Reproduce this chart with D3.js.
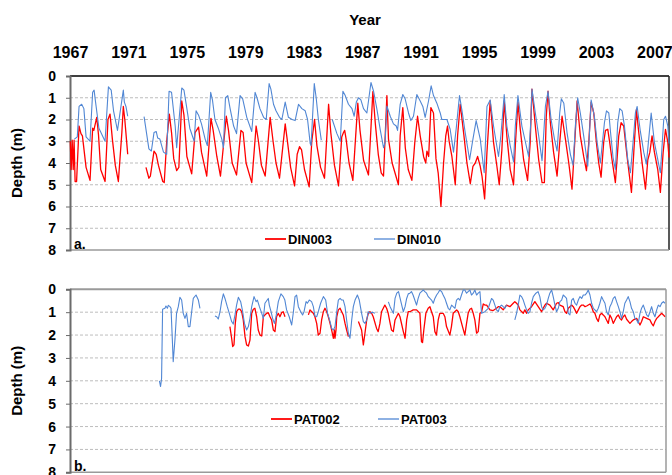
<!DOCTYPE html>
<html>
<head>
<meta charset="utf-8">
<script src="https://cdn.jsdelivr.net/npm/d3@7"></script>
<style>
  body { margin: 0; background: #fff; }
  svg { font-family: Arial, "Liberation Sans", sans-serif; }
  .grid line { stroke: #bdbdbd; stroke-dasharray: 3,2; }
</style>
</head>
<body>
<div id="chart"></div>
<script>
'use strict';

// year ticks along the top and depth ticks for both panels
var yearTicks = [1967, 1971, 1975, 1979, 1983, 1987, 1991, 1995, 1999, 2003, 2007];
var depthTicks = [0, 1, 2, 3, 4, 5, 6, 7, 8];

// [decimal year, depth m]; null = gap in record
var din003 = [
  [1967.02,3.0],[1967.08,4.3],[1967.15,2.95],[1967.22,4.3],[1967.28,2.95],[1967.35,4.85],[1967.45,4.85],[1967.62,2.3],[1967.75,2.65],[1967.85,2.75],
  [1968.1,4.2],[1968.37,4.8],[1968.55,2.4],[1968.63,2.5],[1968.83,1.9],[1968.95,2.7],[1969.1,4.3],[1969.4,4.85],[1969.6,2.0],[1969.74,1.75],
  [1969.9,2.9],[1970.1,4.1],[1970.31,4.85],[1970.55,2.6],[1970.65,1.4],[1970.75,2.0],[1970.95,3.6],null,
  [1972.2,4.2],[1972.4,4.7],[1972.5,4.6],[1972.75,3.45],[1972.9,3.6],[1973.05,4.1],[1973.35,4.85],[1973.45,4.9],[1973.62,3.0],[1973.8,1.75],
  [1973.95,2.6],[1974.1,3.8],[1974.3,4.35],[1974.45,4.2],[1974.65,1.15],[1974.8,1.8],[1975.0,3.7],[1975.33,4.5],[1975.56,2.6],[1975.8,2.35],
  [1976.0,3.5],[1976.36,4.6],[1976.65,1.95],[1976.8,2.5],[1977.05,3.7],[1977.3,4.6],[1977.7,1.85],[1977.85,2.5],[1978.1,4.0],[1978.4,4.55],
  [1978.7,2.5],[1978.85,2.6],[1979.05,4.0],[1979.44,4.9],[1979.74,2.3],[1979.9,3.0],[1980.1,4.1],[1980.36,4.6],[1980.7,1.9],[1980.9,3.0],
  [1981.1,4.0],[1981.34,4.7],[1981.73,2.2],[1981.9,3.1],[1982.1,4.2],[1982.37,5.05],[1982.55,3.6],[1982.71,3.25],[1982.85,3.4],[1983.05,4.3],
  [1983.37,5.1],[1983.55,3.0],[1983.74,2.0],[1983.9,3.2],[1984.15,4.2],[1984.42,4.7],[1984.7,1.3],[1984.85,2.6],[1985.1,4.1],[1985.38,5.05],
  [1985.6,2.8],[1985.72,2.6],[1985.8,2.5],[1985.9,2.9],[1986.1,4.0],[1986.36,4.8],[1986.55,2.8],[1986.7,1.25],[1986.85,2.5],[1987.1,3.9],
  [1987.43,4.55],[1987.73,0.72],[1987.9,2.2],[1988.1,3.6],[1988.3,4.45],[1988.46,4.6],[1988.69,0.9],[1988.8,2.9],[1989.05,4.0],[1989.48,5.0],
  [1989.6,2.75],[1989.78,1.45],[1989.95,3.3],[1990.15,4.3],[1990.4,4.8],[1990.6,3.05],[1990.79,1.85],[1990.97,2.75],[1991.2,3.7],[1991.35,4.0],
  [1991.43,3.45],[1991.55,3.7],[1991.7,1.45],[1991.88,1.7],[1992.05,3.8],[1992.2,4.45],[1992.39,6.0],[1992.57,4.0],[1992.72,2.75],[1992.84,2.3],
  [1992.95,3.0],[1993.14,3.7],[1993.37,5.0],[1993.53,2.75],[1993.71,1.3],[1993.94,2.6],[1994.17,4.0],[1994.4,4.95],[1994.58,4.15],[1994.74,4.0],
  [1994.9,3.7],[1995.08,4.15],[1995.2,4.6],[1995.38,5.65],[1995.54,3.5],[1995.76,1.15],[1995.99,3.05],[1996.22,4.15],[1996.38,5.0],[1996.56,3.4],
  [1996.72,1.15],[1996.9,2.75],[1997.13,4.3],[1997.36,5.0],[1997.48,3.2],[1997.66,1.2],[1997.82,2.45],[1998.05,3.85],[1998.32,4.8],[1998.5,3.05],
  [1998.62,0.6],[1998.85,2.3],[1999.08,3.85],[1999.31,4.9],[1999.47,4.9],[1999.6,1.85],[1999.72,0.7],[1999.88,2.15],[2000.1,3.5],[2000.34,4.6],
  [2000.52,3.05],[2000.68,1.85],[2000.91,2.9],[2001.14,4.0],[2001.36,5.2],[2001.48,3.85],[2001.71,1.15],[2001.93,2.75],[2002.16,3.7],[2002.35,4.35],
  [2002.51,3.05],[2002.67,1.2],[2002.85,1.7],[2003.03,3.05],[2003.19,4.0],[2003.35,4.65],[2003.53,3.05],[2003.65,2.5],[2003.81,2.45],[2003.94,3.05],
  [2004.1,3.85],[2004.33,4.9],[2004.56,2.75],[2004.72,2.15],[2004.9,2.3],[2005.13,3.7],[2005.43,5.35],[2005.59,3.5],[2005.77,1.55],[2005.93,2.6],
  [2006.16,4.0],[2006.39,5.2],[2006.55,3.85],[2006.69,3.5],[2006.84,2.75],[2007.0,3.5],[2007.23,4.3],[2007.41,5.35],[2007.6,3.5],[2007.76,2.45],
  [2007.92,3.05],[2008.0,3.75]
];

var din010 = [
  [1967.3,2.9],[1967.5,2.8],[1967.62,1.4],[1967.8,1.3],[1967.95,1.5],[1968.1,2.8],[1968.37,3.0],[1968.55,0.75],[1968.65,0.65],[1968.75,1.2],
  [1968.98,2.4],[1969.4,3.0],[1969.63,0.5],[1969.82,0.65],[1969.98,1.6],[1970.25,2.5],[1970.65,0.65],[1970.72,1.2],[1970.83,1.4],[1970.95,1.85],null,
  [1972.07,1.87],[1972.4,3.35],[1972.57,3.45],[1972.75,2.6],[1972.9,2.55],[1973.0,2.85],[1973.15,2.9],[1973.4,3.5],[1973.62,3.6],[1973.78,0.7],
  [1973.95,0.75],[1974.2,2.3],[1974.3,3.3],[1974.65,0.55],[1974.8,0.65],[1975.0,1.5],[1975.2,2.4],[1975.5,3.0],[1975.63,1.6],[1975.8,1.8],
  [1976.0,2.2],[1976.25,2.9],[1976.4,3.2],[1976.63,0.75],[1976.75,1.1],[1976.92,2.0],[1977.15,2.4],[1977.39,2.9],[1977.5,3.3],[1977.64,1.0],
  [1977.8,0.9],[1977.96,1.5],[1978.2,2.3],[1978.4,2.65],[1978.64,0.9],[1978.82,1.05],[1979.1,1.9],[1979.44,2.55],[1979.67,0.75],[1979.8,1.0],
  [1980.0,1.5],[1980.25,1.9],[1980.43,2.0],[1980.63,0.35],[1980.75,0.6],[1980.93,1.3],[1981.1,1.6],[1981.34,1.9],[1981.5,2.0],[1981.73,1.2],
  [1981.95,1.9],[1982.2,2.0],[1982.41,2.05],[1982.64,1.3],[1982.87,1.5],[1983.1,1.6],[1983.26,2.0],[1983.44,3.1],[1983.5,3.2],[1983.72,0.35],
  [1983.85,1.0],[1984.0,2.0],[1984.2,2.95],null,
  [1984.95,2.0],[1985.27,2.65],[1985.5,3.0],[1985.68,0.7],[1985.84,0.9],[1986.06,1.3],[1986.3,1.5],[1986.45,1.85],[1986.6,1.2],[1986.75,1.0],
  [1986.91,1.1],[1987.09,1.5],[1987.32,1.7],[1987.6,0.3],[1987.78,0.7],[1988.0,1.5],[1988.23,2.45],[1988.46,3.3],[1988.57,3.05],[1988.69,1.38],
  [1988.92,1.85],[1989.14,2.2],[1989.33,2.3],[1989.42,2.5],[1989.6,1.3],[1989.78,0.85],[1989.94,1.05],[1990.17,1.7],[1990.33,2.05],[1990.51,1.85],
  [1990.74,0.85],[1990.97,1.15],[1991.15,1.4],[1991.31,1.9],[1991.54,1.15],[1991.72,0.45],[1991.88,0.9],[1992.11,1.25],[1992.34,1.7],[1992.45,2.0],
  [1992.8,2.0],[1993.02,2.45],[1993.25,3.5],[1993.43,2.45],[1993.66,0.9],[1993.82,1.55],[1994.05,2.6],[1994.35,3.85],[1994.58,2.9],[1994.8,2.05],
  [1995.08,2.9],[1995.35,4.45],[1995.54,1.4],[1995.76,1.1],[1995.99,2.3],[1996.33,3.7],[1996.49,2.75],[1996.72,0.85],[1996.9,2.3],[1997.13,3.2],
  [1997.36,3.95],[1997.48,2.3],[1997.66,0.9],[1997.93,2.3],[1998.16,3.0],[1998.39,3.7],[1998.55,2.0],[1998.62,0.6],[1998.85,1.7],[1999.08,2.75],
  [1999.31,3.9],[1999.54,1.4],[1999.72,0.7],[1999.93,2.0],[2000.16,2.9],[2000.34,3.45],[2000.52,1.7],[2000.63,1.05],[2000.8,1.25],[2001.02,2.6],
  [2001.25,3.6],[2001.43,4.1],[2001.59,2.3],[2001.75,1.0],[2001.93,1.7],[2002.16,2.75],[2002.44,4.15],[2002.57,2.45],[2002.67,1.1],[2002.9,1.9],
  [2003.08,3.05],[2003.3,4.0],[2003.58,2.15],[2003.72,1.6],[2003.88,1.7],[2004.0,2.6],[2004.17,3.75],[2004.33,4.3],[2004.49,2.15],[2004.63,1.5],
  [2004.79,1.6],[2004.95,2.3],[2005.18,3.85],[2005.36,4.45],[2005.54,3.05],[2005.7,1.7],[2005.82,1.4],[2006.04,2.55],[2006.27,3.5],[2006.45,4.05],
  [2006.61,2.9],[2006.78,1.7],[2007.0,3.05],[2007.19,3.7],[2007.41,4.45],[2007.64,2.0],[2007.76,1.85],[2007.92,2.3],[2008.0,3.1]
];

var pat002 = [
  [1978.0,1.63],[1978.12,2.14],[1978.19,2.5],[1978.28,2.43],[1978.37,1.49],[1978.46,0.98],[1978.58,0.87],[1978.69,0.87],[1978.81,0.98],[1978.92,1.34],
  [1979.04,2.07],[1979.15,2.43],[1979.27,2.48],[1979.38,2.22],[1979.5,1.05],[1979.61,0.87],[1979.72,0.83],[1979.84,1.2],[1979.95,1.78],[1980.07,2.0],
  [1980.19,2.04],[1980.3,1.2],[1980.41,1.12],[1980.53,1.05],[1980.64,1.02],[1980.76,1.2],[1980.87,1.34],[1980.99,1.78],[1981.1,1.85],[1981.21,1.2],
  [1981.33,1.05],[1981.44,1.2],[1981.56,1.02],[1981.67,0.98],[1981.79,1.2],null,
  [1983.4,1.12],[1983.51,0.9],[1983.63,0.98],[1983.74,1.05],[1983.85,1.2],[1983.97,1.49],[1984.08,2.0],[1984.2,1.92],[1984.31,1.34],[1984.43,0.98],
  [1984.54,0.83],[1984.66,0.98],[1984.77,1.2],[1984.89,1.49],[1985.0,1.78],[1985.12,2.14],[1985.19,1.78],[1985.23,2.14],[1985.3,1.78],[1985.35,1.2],
  [1985.46,0.9],[1985.58,0.83],[1985.69,0.98],[1985.8,1.12],[1985.92,1.49],[1986.03,1.78],[1986.15,2.07],null,
  [1986.84,1.41],[1987.06,1.78],[1987.18,2.43],[1987.29,1.92],[1987.41,1.34],[1987.52,1.05],[1987.63,0.98],[1987.75,1.05],[1987.86,1.2],[1988.09,1.71],
  [1988.2,1.85],[1988.32,1.49],[1988.43,0.98],[1988.55,0.83],[1988.66,0.69],[1988.78,0.83],[1988.89,1.05],[1989.0,1.41],[1989.12,1.78],[1989.24,1.85],
  [1989.36,1.34],[1989.47,1.2],[1989.59,1.05],[1989.7,1.2],[1989.93,1.85],[1990.05,2.14],[1990.16,1.34],[1990.27,0.98],[1990.38,0.98],[1990.61,0.9],
  [1990.84,0.9],[1991.07,1.05],[1991.18,2.29],[1991.25,2.33],[1991.34,1.78],[1991.48,1.05],[1991.64,0.83],[1991.76,0.76],[1991.87,0.98],[1991.99,1.2],
  [1992.1,1.85],[1992.21,2.0],[1992.33,1.34],[1992.44,1.05],[1992.56,1.05],[1992.67,1.05],[1992.79,1.2],[1992.9,1.63],[1993.13,2.0],[1993.24,1.63],
  [1993.36,1.05],[1993.47,0.98],[1993.6,0.9],[1993.71,0.98],[1993.82,1.2],[1994.0,1.63],[1994.16,2.0],[1994.28,1.49],[1994.39,1.05],[1994.51,0.87],
  [1994.62,0.83],[1994.74,1.05],[1994.85,1.34],[1994.97,1.92],[1995.08,1.85],[1995.2,1.05],[1995.31,1.0],[1995.43,0.64],[1995.54,0.69],[1995.66,0.69],
  [1995.89,0.9],[1996.11,0.93],[1996.34,0.83],[1996.46,0.76],[1996.57,0.76],[1996.69,0.83],[1996.8,0.9],[1997.03,0.69],[1997.26,0.76],[1997.49,0.61],
  [1997.6,0.54],[1997.72,0.61],[1997.83,0.69],[1997.95,0.9],[1998.18,1.05],[1998.29,0.9],[1998.41,1.05],[1998.52,0.9],[1998.75,0.76],[1998.98,0.54],
  [1999.21,0.76],[1999.44,0.98],[1999.55,0.83],[1999.67,0.69],[1999.78,0.61],[2000.01,0.69],[2000.24,0.9],[2000.36,0.76],[2000.47,0.61],[2000.59,0.58],
  [2000.7,0.69],[2000.93,0.76],[2001.05,0.98],[2001.16,1.05],[2001.28,0.83],[2001.39,0.76],[2001.51,0.69],[2001.62,0.76],[2001.74,0.9],[2001.85,1.05],
  [2001.97,0.9],[2002.08,0.76],[2002.2,0.69],[2002.31,0.69],[2002.43,0.76],[2002.54,0.73],[2002.77,0.64],[2002.88,0.76],[2003.0,0.98],[2003.11,1.05],
  [2003.22,1.27],[2003.34,1.41],[2003.45,1.12],[2003.57,1.05],[2003.68,1.12],[2003.8,1.2],[2003.91,1.34],[2004.03,1.49],[2004.14,1.12],[2004.26,1.27],
  [2004.37,1.49],[2004.49,1.34],[2004.6,1.2],[2004.72,1.12],[2004.83,1.27],[2004.94,1.34],[2005.06,1.2],[2005.17,1.12],[2005.29,1.31],[2005.52,1.49],
  [2005.63,1.41],[2005.75,1.34],[2005.98,1.27],[2006.09,1.41],[2006.21,1.56],[2006.32,1.41],[2006.44,1.2],[2006.67,1.27],[2006.9,1.34],[2007.01,1.49],
  [2007.13,1.6],[2007.24,1.41],[2007.36,1.27],[2007.47,1.2],[2007.59,1.12],[2007.7,1.05],[2007.82,1.12],[2007.93,1.2]
];

var pat003 = [
  [1973.15,4.0],[1973.23,4.25],[1973.3,3.9],[1973.37,0.87],[1973.53,0.83],[1973.6,0.73],[1973.7,0.83],[1973.76,0.7],[1973.88,0.76],[1973.95,0.83],
  [1974.04,2.2],[1974.1,3.17],[1974.22,2.2],[1974.33,1.05],[1974.45,0.76],[1974.56,0.35],[1974.68,0.47],[1974.79,1.05],[1974.91,1.27],[1975.02,1.05],
  [1975.14,1.63],[1975.25,1.63],[1975.37,0.98],[1975.48,0.4],[1975.67,0.25],[1975.83,0.47],[1975.94,0.83],null,
  [1976.97,1.17],[1977.09,1.2],[1977.2,1.3],[1977.32,0.98],[1977.43,0.54],[1977.55,0.2],[1977.66,0.4],[1977.82,0.76],[1977.96,1.05],[1978.12,1.41],
  [1978.23,1.52],[1978.35,1.12],[1978.46,0.69],[1978.58,0.35],[1978.74,0.54],[1978.88,0.98],[1979.0,1.49],[1979.15,1.78],[1979.27,1.63],[1979.38,1.27],
  [1979.5,0.76],[1979.66,0.32],[1979.8,0.54],[1979.89,0.47],[1980.03,0.76],[1980.19,1.05],[1980.3,1.27],[1980.41,0.61],[1980.53,0.5],[1980.64,0.4],
  [1980.71,0.69],[1980.83,0.98],[1980.94,1.27],[1981.06,1.49],[1981.17,1.2],[1981.33,0.54],[1981.51,0.2],[1981.67,0.32],[1981.78,0.47],[1981.9,0.9],
  [1982.08,1.2],[1982.25,1.56],[1982.37,0.98],[1982.48,0.32],[1982.59,0.25],[1982.71,0.76],[1982.87,0.98],[1983.0,1.12],[1983.1,0.98],[1983.24,0.54],
  [1983.33,0.61],[1983.46,0.47],[1983.62,0.54],[1983.74,0.76],[1983.85,1.17],[1983.97,1.2],[1984.08,0.98],[1984.24,0.61],[1984.43,0.32],[1984.59,0.47],
  [1984.72,1.05],[1984.89,1.41],[1985.0,1.71],[1985.12,1.78],[1985.23,1.63],[1985.35,0.98],[1985.46,0.47],[1985.58,0.4],[1985.69,0.47],[1985.8,0.47],
  [1985.92,0.76],[1986.03,1.34],[1986.15,1.92],[1986.26,2.14],[1986.38,1.34],[1986.49,0.76],[1986.61,0.47],[1986.77,0.25],[1986.9,0.47],[1987.06,1.05],
  [1987.18,1.41],[1987.29,1.49],[1987.41,1.34],[1987.52,0.98],[1987.64,1.05],[1987.8,1.0],[1987.98,1.05],null,
  [1988.9,0.55],[1989.02,0.76],[1989.13,0.9],[1989.25,1.05],[1989.36,0.4],[1989.48,0.17],[1989.6,0.1],[1989.71,0.4],[1989.82,0.69],[1989.93,0.98],
  [1990.05,0.76],[1990.16,0.4],[1990.27,0.2],[1990.38,0.17],[1990.49,0.1],[1990.6,0.25],[1990.72,0.47],[1990.84,0.69],[1990.95,0.4],[1991.07,0.17],
  [1991.18,0.1],[1991.3,0.03],[1991.41,0.1],[1991.53,0.17],[1991.64,0.32],[1991.76,0.4],[1991.87,0.47],[1991.99,0.61],[1992.1,0.4],[1992.22,0.25],
  [1992.33,0.15],[1992.44,0.03],[1992.56,0.1],[1992.67,0.25],[1992.79,0.4],[1992.9,0.61],[1993.02,0.83],[1993.13,0.9],[1993.25,0.69],[1993.36,0.76],
  [1993.48,0.83],[1993.59,0.47],[1993.71,0.4],[1993.82,0.47],[1993.93,0.25],[1994.05,0.03],[1994.16,0.03],[1994.28,0.17],[1994.39,0.1],[1994.51,0.03],
  [1994.62,0.25],[1994.74,0.17],[1994.85,0.03],[1994.97,0.25],[1995.08,0.17],[1995.2,0.1],[1995.31,1.05],[1995.54,0.98],[1995.77,0.83],[1996.0,0.4],
  [1996.11,0.47],[1996.23,0.69],[1996.34,0.9],[1996.46,0.98],[1996.57,0.76],[1996.69,0.69],[1996.8,0.76],[1996.92,0.83],[1997.03,0.69],null,
  [1997.6,1.34],[1997.72,1.05],[1997.83,0.69],[1997.95,0.25],[1998.06,0.32],[1998.18,0.47],[1998.29,0.69],[1998.41,0.9],[1998.52,1.05],[1998.64,0.98],
  [1998.75,0.61],[1998.87,0.32],[1999.05,0.17],[1999.2,0.1],[1999.32,0.32],[1999.44,0.76],[1999.55,0.9],[1999.67,0.83],[1999.78,0.69],[1999.9,0.4],
  [2000.01,0.17],[2000.13,0.03],[2000.24,0.32],[2000.36,0.69],[2000.47,0.98],[2000.59,0.83],[2000.7,0.54],[2000.82,0.47],[2000.93,0.25],[2001.05,0.32],
  [2001.16,0.4],[2001.28,1.05],[2001.39,1.12],[2001.51,0.47],[2001.62,0.4],[2001.74,0.61],[2001.85,0.69],[2001.97,0.47],[2002.08,0.32],[2002.2,0.4],
  [2002.31,0.25],[2002.43,0.25],[2002.54,0.17],[2002.65,0.03],[2002.77,0.25],[2002.88,0.61],[2003.0,0.83],[2003.11,0.9],[2003.22,0.98],[2003.34,0.83],
  [2003.45,0.61],[2003.57,0.32],[2003.68,0.47],[2003.8,0.61],[2003.91,0.98],[2004.03,1.12],[2004.14,0.76],[2004.26,0.61],[2004.37,0.4],[2004.49,0.32],
  [2004.6,0.54],[2004.72,0.76],[2004.83,0.98],[2004.94,1.27],[2005.06,0.98],[2005.17,0.61],[2005.29,0.47],[2005.4,0.32],[2005.52,0.54],[2005.63,0.83],
  [2005.75,0.98],[2005.86,1.27],[2005.98,1.34],[2006.09,1.49],[2006.21,1.05],[2006.32,0.83],[2006.44,0.69],[2006.55,0.9],[2006.67,1.12],[2006.78,1.2],
  [2006.9,0.98],[2007.01,0.76],[2007.13,1.05],[2007.24,1.2],[2007.36,0.9],[2007.47,0.69],[2007.59,0.76],[2007.7,0.61],[2007.82,0.54],[2007.93,0.61]
];

var RED = "#ff0000", BLUE = "#5187d4";

var width = 672, height = 475;

var svg = d3.select("#chart").append("svg")
    .attr("width", width)
    .attr("height", height);

// shared title + year labels on top
svg.append("text")
    .attr("x", 365).attr("y", 25)
    .attr("text-anchor", "middle")
    .style("font-size", "15px").style("font-weight", "bold")
    .text("Year");

var xTop = d3.scaleLinear().domain([1967, 2008]).range([70, 669]);

svg.append("g")
    .attr("transform", "translate(0,76)")
    .call(d3.axisTop(xTop).tickValues(yearTicks).tickFormat(d3.format("d")).tickSize(0).tickPadding(18))
    .call(function(g) { g.select(".domain").remove(); })
    .selectAll("text")
    .style("font-size", "16px").style("font-weight", "bold").attr("fill", "#000");

function panel(opts) {
    var x = d3.scaleLinear().domain([1967, 2008]).range([70, opts.right]);
    var y = d3.scaleLinear().domain([0, 8]).range([opts.top, opts.bottom]);

    var g = svg.append("g");

    g.append("g").attr("class", "grid")
        .selectAll("line")
        .data(depthTicks.slice(1, 8))
        .enter().append("line")
        .attr("x1", 70).attr("x2", opts.right)
        .attr("y1", function(d) { return y(d); })
        .attr("y2", function(d) { return y(d); });

    // frame
    g.append("line").attr("x1", 70).attr("x2", opts.right).attr("y1", opts.top).attr("y2", opts.top)
        .attr("stroke", opts.topColor).attr("stroke-width", opts.topWidth);
    g.append("line").attr("x1", opts.right).attr("x2", opts.right).attr("y1", opts.top).attr("y2", opts.bottom)
        .attr("stroke", opts.sideColor).attr("stroke-width", 1.5);
    g.append("line").attr("x1", 70).attr("x2", opts.right).attr("y1", opts.bottom).attr("y2", opts.bottom)
        .attr("stroke", "#9a9a9a").attr("stroke-width", 1.5);

    var yAxis = g.append("g")
        .attr("transform", "translate(70,0)")
        .call(d3.axisLeft(y).tickValues(depthTicks).tickSize(4).tickPadding(10));
    yAxis.select(".domain").attr("stroke", "#6b6b6b").attr("stroke-width", 2);
    yAxis.selectAll(".tick line").attr("stroke", "#6b6b6b");
    yAxis.selectAll("text")
        .style("font-size", "14px").style("font-weight", "bold")
        .style("font-family", "Arial, 'Liberation Sans', sans-serif")
        .attr("fill", "#000");

    g.append("text")
        .attr("transform", "translate(22," + ((opts.top + opts.bottom) / 2) + ") rotate(-90)")
        .attr("text-anchor", "middle")
        .style("font-size", "15px").style("font-weight", "bold")
        .text("Depth (m)");

    g.append("text")
        .attr("x", 74).attr("y", opts.bottom - 1)
        .style("font-size", "14px").style("font-weight", "bold")
        .text(opts.letter);

    var line = d3.line()
        .defined(function(d) { return d !== null; })
        .x(function(d) { return x(d[0]); })
        .y(function(d) { return y(d[1]); });

    g.append("path").datum(opts.series[0].data)
        .attr("fill", "none").attr("stroke", RED).attr("stroke-width", 1.3)
        .attr("stroke-linejoin", "round")
        .attr("d", line);
    g.append("path").datum(opts.series[1].data)
        .attr("fill", "none").attr("stroke", BLUE).attr("stroke-width", 1.1)
        .attr("stroke-linejoin", "round")
        .attr("d", line);

    // legend
    var leg = g.selectAll(".leg")
        .data(opts.series)
        .enter().append("g")
        .attr("transform", function(d, i) { return "translate(" + opts.legX[i] + "," + opts.legY + ")"; });
    leg.append("line")
        .attr("x1", 0).attr("x2", 21)
        .attr("stroke", function(d, i) { return i === 0 ? RED : BLUE; })
        .attr("stroke-width", function(d, i) { return i === 0 ? 1.8 : 1.3; });
    leg.append("text")
        .attr("x", 23).attr("y", 5)
        .style("font-size", "13px").style("font-weight", "bold")
        .text(function(d) { return d.name; });
}

panel({
    top: 76, bottom: 250, right: 669, letter: "a.",
    topColor: "#000", topWidth: 1.5, sideColor: "#222",
    legX: [265, 374], legY: 239,
    series: [{name: "DIN003", data: din003}, {name: "DIN010", data: din010}]
});

panel({
    top: 289.3, bottom: 472.3, right: 666, letter: "b.",
    topColor: "#9a9a9a", topWidth: 2, sideColor: "#9a9a9a",
    legX: [271, 378], legY: 419,
    series: [{name: "PAT002", data: pat002}, {name: "PAT003", data: pat003}]
});
</script>
</body>
</html>
